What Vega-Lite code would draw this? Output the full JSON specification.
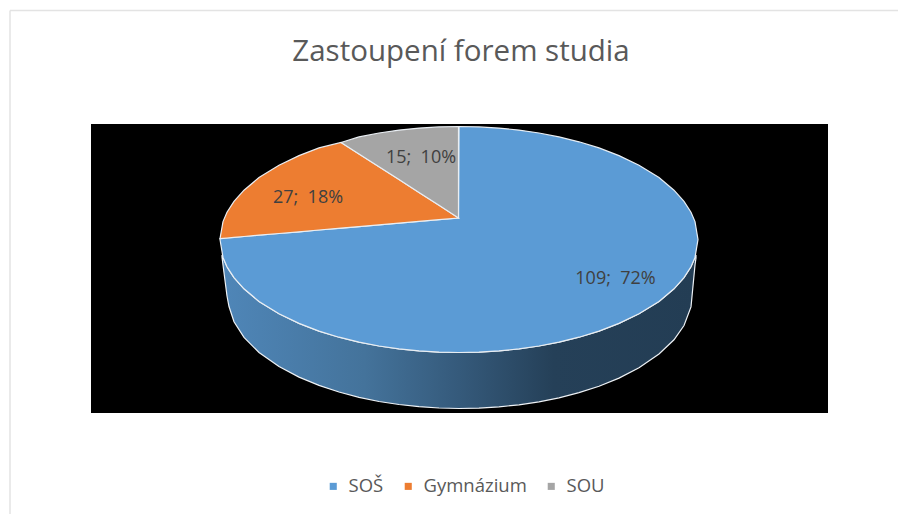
{
"$schema":"https://vega.github.io/schema/vega-lite/v6.json",
"width":898,"height":514,"padding":0,"autosize":{"type":"none"},
"background":"#ffffff",
"title":{"text":"Zastoupení forem studia","font":"Open Sans","fontSize":29.5,"fontWeight":"normal","color":"#595959","anchor":"middle","frame":"group","offset":-67,"dx":12},
"config":{"view":{"stroke":null}},
"datasets":{
"frame":[{"x":10,"y":10.5,"x2":898,"y2":10.5},{"x":10,"y":10.5,"x2":10,"y2":514}],
"backdrop":[{"x":91,"x2":828,"y":124,"y2":413}],
"wall":[
{"x":222,"y":255,"y2":257},{"x":223,"y":257.4,"y2":265},{"x":227,"y":266.7,"y2":296},{"x":229,"y":270.2,"y2":306.5},{"x":234,"y":277.6,"y2":321.8},{"x":244,"y":288.8,"y2":337.4},{"x":259,"y":301.4,"y2":352.5},{"x":279,"y":313.8,"y2":366.6},{"x":299,"y":323.4,"y2":377.1},{"x":319,"y":331.1,"y2":385.4},{"x":339,"y":337.2,"y2":392},{"x":359,"y":342.1,"y2":397.3},{"x":379,"y":346,"y2":401.5},{"x":399,"y":348.9,"y2":404.5},{"x":419,"y":350.9,"y2":406.7},{"x":439,"y":352.1,"y2":408},{"x":459,"y":352.5,"y2":408.5},{"x":479,"y":352.1,"y2":408.1},{"x":499,"y":350.9,"y2":406.9},{"x":519,"y":348.9,"y2":404.8},{"x":539,"y":346,"y2":401.8},{"x":559,"y":342.1,"y2":397.8},{"x":579,"y":337.2,"y2":392.6},{"x":599,"y":331.1,"y2":386.2},{"x":619,"y":323.4,"y2":378.1},{"x":639,"y":313.8,"y2":367.7},{"x":659,"y":301.4,"y2":354},{"x":674,"y":288.8,"y2":339.8},{"x":684,"y":277.6,"y2":325.5},{"x":691,"y":266.7,"y2":306.9},{"x":695,"y":257.4,"y2":265},{"x":696,"y":255,"y2":258}],
"slices":[
{"forma":"SOŠ","x":220,"y":238.6,"y2":239.5},{"forma":"SOŠ","x":223,"y":238.3,"y2":257.4},{"forma":"SOŠ","x":227,"y":238,"y2":266.7},{"forma":"SOŠ","x":234,"y":237.4,"y2":277.6},{"forma":"SOŠ","x":244,"y":236.5,"y2":288.8},{"forma":"SOŠ","x":259,"y":235.2,"y2":301.4},{"forma":"SOŠ","x":279,"y":233.5,"y2":313.8},{"forma":"SOŠ","x":299,"y":231.8,"y2":323.4},{"forma":"SOŠ","x":319,"y":230,"y2":331.1},{"forma":"SOŠ","x":339,"y":228.3,"y2":337.2},{"forma":"SOŠ","x":359,"y":226.6,"y2":342.1},{"forma":"SOŠ","x":379,"y":224.9,"y2":346},{"forma":"SOŠ","x":399,"y":223.1,"y2":348.9},{"forma":"SOŠ","x":419,"y":221.4,"y2":350.9},{"forma":"SOŠ","x":439,"y":219.7,"y2":352.1},{"forma":"SOŠ","x":458.5,"y":218,"y2":352.5},{"forma":"SOŠ","x":459,"y":126.5,"y2":352.5},{"forma":"SOŠ","x":479,"y":126.9,"y2":352.1},{"forma":"SOŠ","x":499,"y":128.1,"y2":350.9},{"forma":"SOŠ","x":519,"y":130.1,"y2":348.9},{"forma":"SOŠ","x":539,"y":133,"y2":346},{"forma":"SOŠ","x":559,"y":136.9,"y2":342.1},{"forma":"SOŠ","x":579,"y":141.8,"y2":337.2},{"forma":"SOŠ","x":599,"y":147.9,"y2":331.1},{"forma":"SOŠ","x":619,"y":155.6,"y2":323.4},{"forma":"SOŠ","x":639,"y":165.2,"y2":313.8},{"forma":"SOŠ","x":659,"y":177.6,"y2":301.4},{"forma":"SOŠ","x":674,"y":190.2,"y2":288.8},{"forma":"SOŠ","x":684,"y":201.4,"y2":277.6},{"forma":"SOŠ","x":691,"y":212.3,"y2":266.7},{"forma":"SOŠ","x":695,"y":221.6,"y2":257.4},{"forma":"SOŠ","x":698,"y":239.5,"y2":239.5},
{"forma":"Gymnázium","x":220,"y":238.6,"y2":238.6},{"forma":"Gymnázium","x":223,"y":221.6,"y2":238.3},{"forma":"Gymnázium","x":227,"y":212.3,"y2":238},{"forma":"Gymnázium","x":234,"y":201.4,"y2":237.4},{"forma":"Gymnázium","x":244,"y":190.2,"y2":236.5},{"forma":"Gymnázium","x":259,"y":177.6,"y2":235.2},{"forma":"Gymnázium","x":279,"y":165.2,"y2":233.5},{"forma":"Gymnázium","x":299,"y":155.6,"y2":231.8},{"forma":"Gymnázium","x":319,"y":147.9,"y2":230},{"forma":"Gymnázium","x":341,"y":142.5,"y2":228.1},{"forma":"Gymnázium","x":359,"y":154,"y2":226.6},{"forma":"Gymnázium","x":379,"y":166.8,"y2":224.9},{"forma":"Gymnázium","x":399,"y":179.6,"y2":223.1},{"forma":"Gymnázium","x":419,"y":192.4,"y2":221.4},{"forma":"Gymnázium","x":439,"y":205.2,"y2":219.7},{"forma":"Gymnázium","x":458.5,"y":218,"y2":218},
{"forma":"SOU","x":341,"y":142.5,"y2":142.5},{"forma":"SOU","x":359,"y":136.9,"y2":154},{"forma":"SOU","x":379,"y":133,"y2":166.8},{"forma":"SOU","x":399,"y":130.1,"y2":179.6},{"forma":"SOU","x":419,"y":128.1,"y2":192.4},{"forma":"SOU","x":439,"y":126.9,"y2":205.2},{"forma":"SOU","x":458.5,"y":126.5,"y2":218}
],
"labels":[
{"forma":"SOŠ","pocet":109,"podil":"72%","label":"109;\u00a0 72%","x":615.5,"y":279},
{"forma":"Gymnázium","pocet":27,"podil":"18%","label":"27;\u00a0 18%","x":308,"y":198},
{"forma":"SOU","pocet":15,"podil":"10%","label":"15;\u00a0 10%","x":421,"y":158}
]
},
"layer":[
{"data":{"name":"frame"},"mark":{"type":"rule","color":"#e3e3e3","strokeWidth":1.5},
 "encoding":{"x":{"field":"x","type":"quantitative","scale":{"domain":[0,898],"nice":false,"zero":false},"axis":null},"y":{"field":"y","type":"quantitative","scale":{"domain":[514,0],"nice":false,"zero":false},"axis":null},"x2":{"field":"x2"},"y2":{"field":"y2"}}},
{"data":{"name":"backdrop"},"mark":{"type":"rect","color":"#000000"},
 "encoding":{"x":{"field":"x","type":"quantitative"},"x2":{"field":"x2"},"y":{"field":"y","type":"quantitative"},"y2":{"field":"y2"}}},
{"data":{"name":"wall"},"mark":{"type":"area","interpolate":"linear","stroke":"#eef2f6","strokeWidth":1.2,
  "fill":{"gradient":"linear","x1":0,"y1":0,"x2":1,"y2":0,"stops":[{"offset":0,"color":"#4f86b8"},{"offset":0.3,"color":"#44739b"},{"offset":0.5,"color":"#355a7b"},{"offset":0.7,"color":"#254058"},{"offset":1,"color":"#233d54"}]}},
 "encoding":{"x":{"field":"x","type":"quantitative"},"y":{"field":"y","type":"quantitative","stack":null},"y2":{"field":"y2"}}},
{"data":{"name":"slices"},"mark":{"type":"area","interpolate":"linear","stroke":"#e9eef3","strokeWidth":1.2},
 "encoding":{"x":{"field":"x","type":"quantitative"},"y":{"field":"y","type":"quantitative","stack":null},"y2":{"field":"y2"},
  "color":{"field":"forma","type":"nominal","scale":{"domain":["SOŠ","Gymnázium","SOU"],"range":["#5B9BD5","#ED7D31","#A5A5A5"]},
   "legend":{"title":null,"orient":"none","direction":"horizontal","legendX":324,"legendY":477,"symbolType":"square","symbolSize":50,"symbolStrokeWidth":0,"labelFont":"Open Sans","labelFontSize":18.5,"labelColor":"#595959","columnPadding":15,"labelOffset":6}}}},
{"data":{"name":"labels"},"mark":{"type":"text","font":"Open Sans","fontSize":18,"color":"#404040","align":"center","baseline":"middle"},
 "encoding":{"x":{"field":"x","type":"quantitative"},"y":{"field":"y","type":"quantitative"},"text":{"field":"label","type":"nominal"}}}
]
}
